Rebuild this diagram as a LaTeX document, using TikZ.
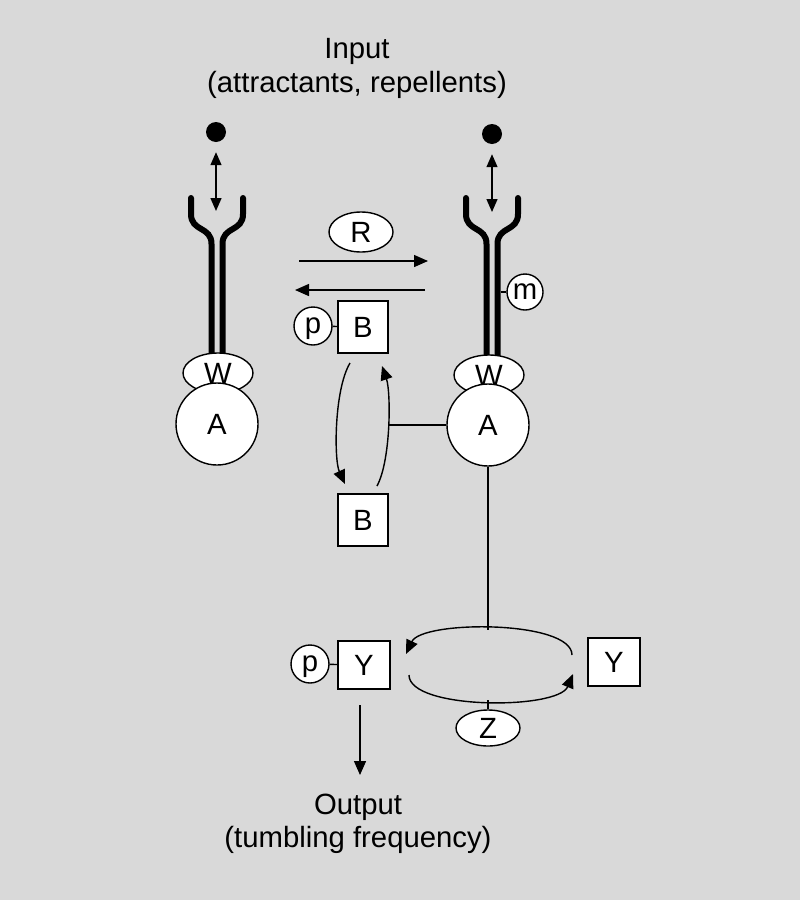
\documentclass[tikz,border=0pt]{standalone}
\usepackage{fontspec}
\setmainfont{Liberation Sans}
\usetikzlibrary{arrows.meta,shapes.geometric}
\definecolor{bgcol}{RGB}{217,217,217}
\begin{document}
\begin{tikzpicture}[x=1pt,y=-1pt,
  font=\fontsize{29.3}{34}\selectfont,
  thinl/.style={line width=1.4pt},
  tip/.style={thinl,-{Triangle[width=12pt,length=14pt]}},
  dbltip/.style={thinl,{Triangle[width=11pt,length=13pt]}-{Triangle[width=11pt,length=13pt]}},
  recep/.style={line width=6pt,line cap=round},
  dot/.style={circle,fill=black,minimum size=20pt,inner sep=0pt},
  wnode/.style={ellipse,draw,thinl,fill=white,minimum width=70pt,minimum height=40pt,inner sep=0pt},
  anode/.style={circle,draw,thinl,fill=white,minimum size=82pt,inner sep=0pt},
  ovalnode/.style={ellipse,draw,thinl,fill=white,inner sep=0pt},
  pnode/.style={circle,draw,thinl,fill=white,minimum size=38pt,inner sep=0pt,text height=15.5pt,text depth=0pt},
  boxnode/.style={rectangle,draw,thinl,fill=white,minimum width=50pt,minimum height=50pt,inner sep=0pt}]
\fill[bgcol] (0,0) rectangle (800,900);
\useasboundingbox (0,0) rectangle (800,900);

% input text
\node[anchor=base] (in1) at (357,58) {Input};
\node[anchor=base] (in2) at (357,92) {(attractants, repellents)};

% receptors
\foreach \cx in {217,492}{
  \draw[recep] (\cx-26,198) -- (\cx-26,214) .. controls (\cx-26,232) and (\cx-5.5,226) .. (\cx-5.5,244) -- (\cx-5.5,370);
  \draw[recep] (\cx+26,198) -- (\cx+26,214) .. controls (\cx+26,232) and (\cx+5.5,226) .. (\cx+5.5,244) -- (\cx+5.5,370);
}

% ligands
\node[dot] (ligL) at (216,132) {};
\node[dot] (ligR) at (492,134) {};
\coordinate (recL) at (216,211);
\coordinate (recR) at (492,212);
\draw[dbltip] ([yshift=-10pt]ligL.south) -- (recL);
\draw[dbltip] ([yshift=-10pt]ligR.south) -- (recR);

% W and A
\node[wnode] (WL) at (218,373) {W};
\node[anode] (AL) at (217,424) {A};
\node[wnode] (WR) at (489,375) {W};
\node[anode] (AR) at (488,425) {A};

% m
\node[pnode,minimum size=36pt] (m) at (525,292) {m};
\coordinate (mcon) at (500.5,292);
\draw[thinl] (mcon) -- (m);

% R and arrows
\node[ovalnode,minimum width=64pt,minimum height=40pt] (R) at (361,232) {R};
\coordinate (ra1) at (299,261);
\coordinate (ra2) at (428,261);
\coordinate (rb1) at (425,290);
\coordinate (rb2) at (295,290);
\draw[tip] (ra1) -- (ra2);
\draw[tip] (rb1) -- (rb2);

% B cycle
\node[pnode] (pB) at (313,326) {p};
\node[boxnode,minimum height=52pt] (B1) at (363,327) {B};
\draw[thinl] (pB) -- (B1);
\node[boxnode,minimum height=52pt] (B2) at (363,520) {B};
\coordinate (bl1) at (350,363);
\coordinate (bl2) at (345,484);
\coordinate (br1) at (377,486);
\coordinate (br2) at (382,366);
\draw[tip] (bl1) .. controls (334,390) and (334,460) .. (bl2);
\draw[tip] (br1) .. controls (391,460) and (391,392) .. (br2);
\coordinate (bj) at (387.5,425);
\draw[thinl] (AR.west) -- (bj);

% Y cycle
\node[pnode] (pY) at (310,664) {p};
\node[boxnode,minimum width=52pt,minimum height=48pt] (Y1) at (364,665) {Y};
\draw[thinl] (pY) -- (Y1);
\node[boxnode,minimum width=52pt,minimum height=48pt] (Y2) at (614,662) {Y};
\coordinate (yt1) at (572,655);
\coordinate (yt2) at (406,654);
\coordinate (yb1) at (409,675);
\coordinate (yb2) at (573,674);
\draw[tip] (yt1) .. controls (572,620) and (422,620) .. (yt2);
\draw[tip] (yb1) .. controls (409,710) and (558,710) .. (yb2);
\coordinate (ytop) at (488,630);
\draw[thinl] (AR.south) -- (ytop);
\node[ovalnode,minimum width=64pt,minimum height=36pt] (Z) at (488,728) {Z};
\coordinate (ybot) at (488,700);
\draw[thinl] (Z.north) -- (ybot);

% output
\coordinate (o1) at (360,705);
\coordinate (o2) at (360,775);
\draw[tip] (o1) -- (o2);
\node[anchor=base] (out1) at (358,814) {Output};
\node[anchor=base] (out2) at (358,847) {(tumbling frequency)};
\end{tikzpicture}
\end{document}
